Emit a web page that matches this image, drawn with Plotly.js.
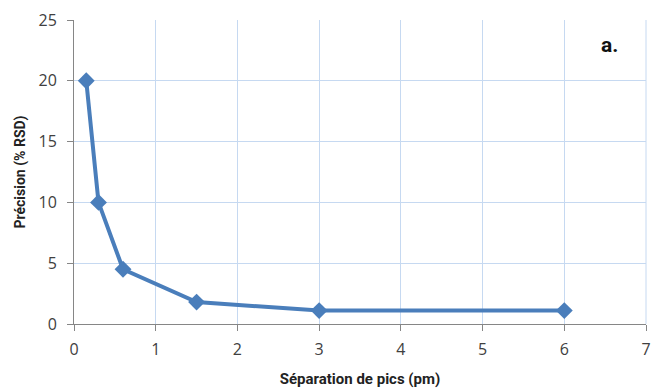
<!DOCTYPE html>
<html>
<head>
<meta charset="utf-8">
<script src="https://cdn.plot.ly/plotly-3.0.1.min.js"></script>
<style>html,body{margin:0;padding:0;background:#fff;}#chart{width:651px;height:392px;}</style>
</head>
<body>
<div id="chart"></div>
<script>
const separation = [0.15, 0.3, 0.6, 1.5, 3, 6];
const precision = [20, 10, 4.5, 1.8, 1.1, 1.1];
const xTicks = [0, 1, 2, 3, 4, 5, 6, 7];
const yTicks = [0, 5, 10, 15, 20, 25];

const trace = {
  x: separation, y: precision, type: 'scatter', mode: 'lines+markers',
  line: {color: '#4a7ebb', width: 4},
  marker: {symbol: 'diamond', size: 13, color: '#4a7ebb'},
  showlegend: false
};
const layout = {
  width: 651, height: 392,
  margin: {l: 74, r: 5, t: 20, b: 68},
  paper_bgcolor: '#fff', plot_bgcolor: '#fff',
  xaxis: {
    range: [0, 7], tickvals: xTicks, ticktext: xTicks.map(String),
    showgrid: true, gridcolor: '#c6d9f1', gridwidth: 1,
    showline: true, linecolor: '#868686', linewidth: 1,
    ticks: 'outside', ticklen: 6, tickcolor: '#868686',
    ticklabelstandoff: 5,
    zeroline: false,
    tickfont: {family: 'Open Sans', size: 16, color: '#404040'},
    title: {text: 'Séparation de pics (pm)', font: {family: 'Roboto', size: 15, color: '#222', weight: 'bold'}, standoff: 14}
  },
  yaxis: {
    range: [0, 25], tickvals: yTicks, ticktext: yTicks.map(String),
    showgrid: true, gridcolor: '#c6d9f1', gridwidth: 1,
    showline: true, linecolor: '#868686', linewidth: 1,
    ticks: 'outside', ticklen: 6, tickcolor: '#868686',
    ticklabelstandoff: 7,
    zeroline: false,
    tickfont: {family: 'Open Sans', size: 16, color: '#404040'},
    title: {text: 'Précision (% RSD)', font: {family: 'Roboto', size: 14, color: '#222', weight: 'bold'}, standoff: 9}
  },
  shapes: [
    {type: 'line', xref: 'paper', yref: 'paper', x0: 1, x1: 1, y0: 0, y1: 1, line: {color: '#c6d9f1', width: 1}}
  ],
  annotations: [
    {text: 'a.', xref: 'paper', yref: 'paper', x: 0.937, y: 0.918, xanchor: 'center', yanchor: 'middle', showarrow: false,
     font: {family: 'Roboto', size: 21, color: '#111', weight: 'bold'}}
  ]
};
Plotly.newPlot('chart', [trace], layout, {displayModeBar: false, staticPlot: true});
</script>
</body>
</html>
